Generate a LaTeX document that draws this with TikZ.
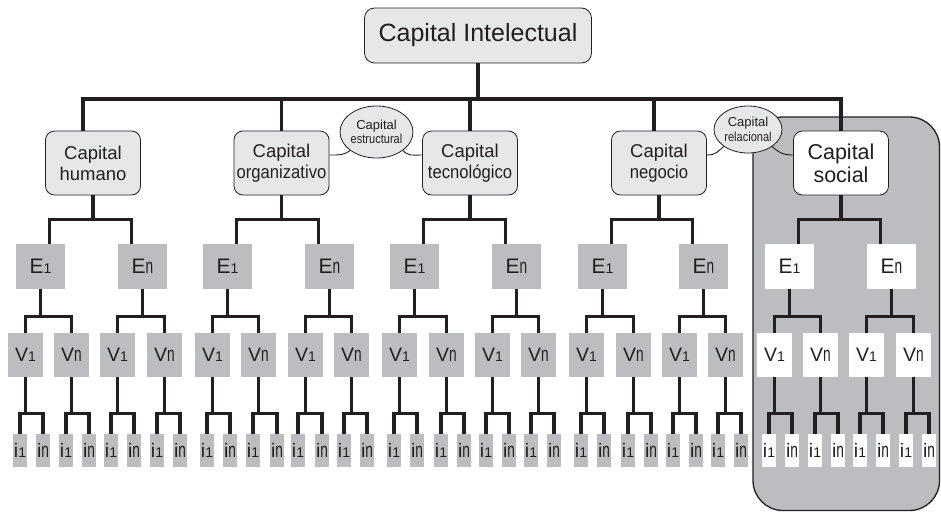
\documentclass[tikz,border=0pt]{standalone}
\usepackage{fontspec}
\setmainfont{Liberation Sans}
\usetikzlibrary{shapes.geometric,calc}
\definecolor{boxgray}{HTML}{BCBDC0}
\definecolor{lightfill}{HTML}{E6E7E9}
\definecolor{ink}{HTML}{231F20}
\newcommand\lowone{{\fontsize{14}{14}\selectfont 1}}
\newcommand\lown{\scalebox{0.65}[1]{\fontsize{21}{21}\selectfont n}}
\newcommand\narrow[1]{\scalebox{0.9}[1]{#1}}
\begin{document}
\begin{tikzpicture}[x=1pt,y=-1pt,text=ink,
  tree/.style={draw=ink,line width=3.2pt},
  thinlink/.style={draw=ink,line width=0.9pt},
  topbox/.style={draw=ink,line width=0.8pt,fill=lightfill,rounded corners=10pt,minimum width=227pt,minimum height=55pt,inner sep=0pt,font=\fontsize{25}{28}\selectfont},
  capbox/.style={draw=ink,line width=0.8pt,fill=lightfill,rounded corners=9pt,minimum width=95pt,minimum height=64pt,inner sep=0pt,align=center,font=\fontsize{18.5}{21}\selectfont},
  ellbox/.style={ellipse,draw=ink,line width=0.8pt,fill=lightfill,inner sep=0pt,align=center,font=\fontsize{13}{14.5}\selectfont},
  ebox/.style={minimum width=49pt,minimum height=45pt,inner sep=0pt,font=\fontsize{21}{21}\selectfont},
  vbox/.style={minimum width=35pt,minimum height=44pt,inner sep=0pt,font=\fontsize{19.5}{20}\selectfont},
  ibox/.style={minimum width=14pt,minimum height=33pt,inner sep=0pt,font=\fontsize{19.5}{20}\selectfont},
  region/.style={draw=ink,line width=1.3pt,fill=boxgray,rounded corners=30pt}
]
\useasboundingbox (0,0) rectangle (941,512);
\fill[white] (0,0) rectangle (941,512);
\draw[region] (753,117) rectangle (939.5,510.5);

% nodes
\node[topbox] (top) at (478,35.5) {Capital Intelectual};
\node[capbox] (hum) at (93,163) {Capital\\humano};
\node[capbox] (org) at (281.5,163) {Capital\\\narrow{organizativo}};
\node[capbox] (tec) at (470,163) {Capital\\\narrow{tecnológico}};
\node[capbox] (neg) at (659,163) {Capital\\\narrow{negocio}};
\node[capbox,fill=white,font=\fontsize{21.5}{23}\selectfont] (soc) at (841,163) {Capital\\social};
\node[ellbox,minimum width=69pt,minimum height=52pt] (estr) at (376.5,132) {Capital\\\scalebox{0.85}[1]{estructural}};
\node[ellbox,minimum width=68pt,minimum height=47pt] (rel) at (748,129.5) {Capital\\\scalebox{0.85}[1]{relacional}};

\foreach \x [count=\k] in {40.5,142.5,227.5,329.5,414.5,516.5,602.5,703.5,789.5,891.5}{
  \ifnum\k>8 \def\myfill{white}\else\def\myfill{boxgray}\fi
  \ifodd\k \def\mylabel{E\lowone}\else\def\mylabel{E\lown}\fi
  \node[ebox,fill=\myfill] (e\k) at (\x,266.5) {\mylabel};
}
\foreach \x [count=\k] in {25.5,71.5,117.5,164.5,212.5,258.5,305.5,351.5,399.5,446.5,492.5,538.5,586.5,633.5,679.5,725.5,774.5,820.5,866.5,913.5}{
  \ifnum\k>16 \def\myfill{white}\else\def\myfill{boxgray}\fi
  \ifodd\k \def\mylabel{V\lowone}\else\def\mylabel{V\lown}\fi
  \node[vbox,fill=\myfill] (v\k) at (\x,355) {\mylabel};
}
\foreach \x [count=\k] in {20,43,66,89,111,134,157,180,207,230,253,277,298,322,344,367,394,417,441,464,486,509,531,554,581,604,628,651,673,696,718,741,769,792,815,838,860,883,906,929}{
  \ifnum\k>32 \def\myfill{white}\else\def\myfill{boxgray}\fi
  \ifodd\k \def\mylabel{i\lowone}\else\def\mylabel{i\lown}\fi
  \node[ibox,fill=\myfill] (i\k) at (\x,450.5) {\mylabel};
}

% top level tree
\coordinate (topbus) at (478,99);
\draw[tree] (top.south) -- (topbus);
\draw[tree] ([xshift=-10pt]hum.north) |- (topbus) -| (soc.north);
\draw[tree] (org.north) -- ++(0,-32);
\draw[tree] (tec.north) -- ++(0,-32);
\draw[tree] ([xshift=-5pt]neg.north) -- ++(0,-32);

% level 1 -> E
\foreach \p/\a/\b in {hum/1/2,org/3/4,tec/5/6,neg/7/8,soc/9/10}{
  \draw[tree] (\p.south) -- ++(0,24) coordinate (j\p);
  \draw[tree] ([xshift=9pt]e\a.north) |- (j\p) -| ([xshift=-11pt]e\b.north);
}
% E -> V
\foreach \k in {1,...,10}{
  \pgfmathtruncatemacro\a{2*\k-1}
  \pgfmathtruncatemacro\b{2*\k}
  \draw[tree] (e\k.south) -- ++(0,27) coordinate (je\k);
  \draw[tree] (v\a.north) |- (je\k) -| (v\b.north);
}
% V -> i
\foreach \k in {1,...,20}{
  \pgfmathtruncatemacro\a{2*\k-1}
  \pgfmathtruncatemacro\b{2*\k}
  \draw[tree] (v\k.south) -- ++(0,36) coordinate (jv\k);
  \draw[tree] (i\a.north) |- (jv\k) -| (i\b.north);
}

% thin links to ellipses
\draw[thinlink] ([yshift=8pt]org.east) .. controls +(10,0) and +(-7,5) .. (estr.215);
\draw[thinlink] (estr.-35) .. controls +(6,6) and +(-10,0) .. ([yshift=8pt]tec.west);
\draw[thinlink] ([yshift=8pt]neg.east) .. controls +(9,0) and +(-6,5) .. (rel.215);
\draw[thinlink] (rel.-35) .. controls +(6,6) and +(-10,0) .. ([yshift=8pt]soc.west);
\end{tikzpicture}
\end{document}
